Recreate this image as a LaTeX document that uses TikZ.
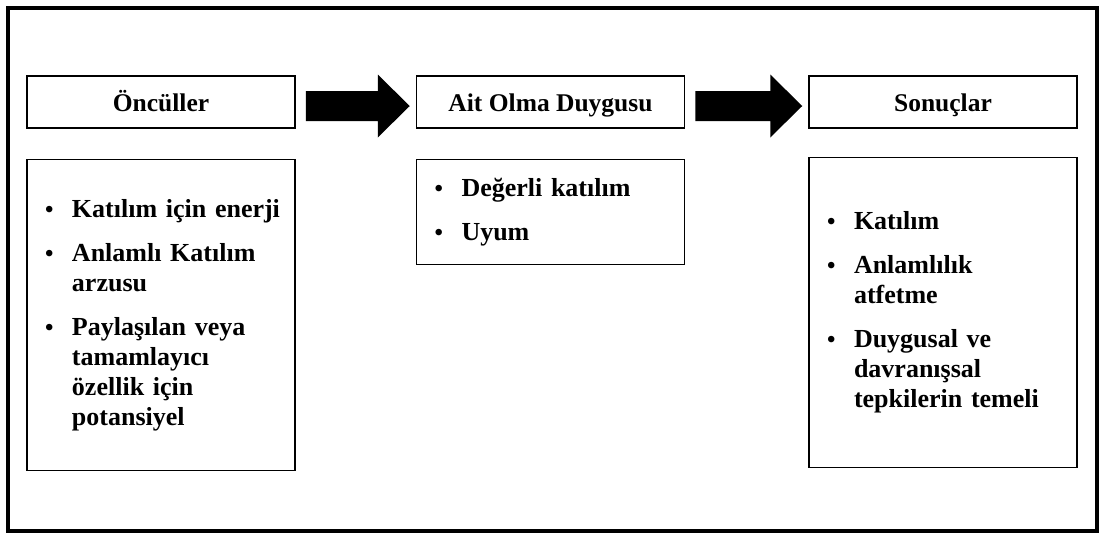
\documentclass[tikz,border=0pt]{standalone}
\usepackage{fontspec}
\setmainfont{Liberation Serif}
\usetikzlibrary{calc,positioning}
\newcommand{\listsetup}{\raggedright\hyphenpenalty=10000\relax\parskip=14pt\relax}
\tikzstyle{head} = [draw, rectangle, line width=1.5pt, minimum width=268pt, minimum height=52pt, text height=24pt, text depth=5pt, text centered, font=\fontsize{25.5}{30}\selectfont\bfseries]
\tikzstyle{list} = [draw, rectangle, line width=1.5pt, text width=240pt, inner xsep=14pt, align=left, font=\fontsize{26}{30}\selectfont\bfseries]
\tikzstyle{frame} = [draw, line width=3.5pt]
\tikzstyle{arrowfill} = [fill=black]
\newcommand{\itm}[1]{\hangindent=31pt\hangafter=1\noindent\makebox[31pt][l]{\hspace{4pt}{\fontsize{24}{30}\selectfont\textbullet}}#1\par}
\newcommand{\blockarrow}[2]{%
  \fill[arrowfill] let \p1=($(#1.east)+(10,-4)$), \p2=($(#2.west)+(-6,-4)$) in
    (\x1,\y1+15pt) -- (\x2-32pt,\y1+15pt) -- (\x2-32pt,\y1+31.5pt) -- (\x2,\y1)
    -- (\x2-32pt,\y1-31.5pt) -- (\x2-32pt,\y1-15pt) -- (\x1,\y1-15pt) -- cycle;}
\begin{document}
\begin{tikzpicture}[x=1pt, y=1pt]
	\useasboundingbox (0,0) rectangle (1103,-539);
	\draw[frame] (8,-8) rectangle (1097,-531);
	\node[head](pre) at (161,-102){Öncüller};
	\node[head, right=120pt of pre](ait){Ait Olma Duygusu};
	\node[head, right=123pt of ait](son){Sonuçlar};
	\node[list, minimum height=311pt, below=30pt of pre](prelist){\listsetup%
		\itm{Katılım için enerji}
		\itm{Anlamlı Katılım\newline arzusu}
		\itm{Paylaşılan veya\newline tamamlayıcı\newline özellik için\newline potansiyel}};
	\node[list, minimum height=105pt, below=30pt of ait](aitlist){\listsetup%
		\itm{Değerli katılım}
		\itm{Uyum}};
	\node[list, minimum height=310pt, below=28pt of son](sonlist){\listsetup%
		\itm{Katılım}
		\itm{Anlamlılık\newline atfetme}
		\itm{Duygusal ve\newline davranışsal\newline tepkilerin temeli}};
	
	\blockarrow{pre}{ait}
	\blockarrow{ait}{son}
\end{tikzpicture}
\end{document}
